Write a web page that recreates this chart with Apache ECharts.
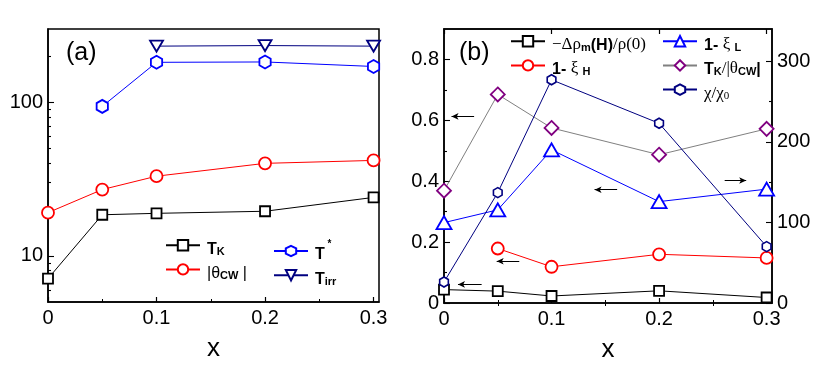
<!DOCTYPE html>
<html>
<head>
<meta charset="utf-8">
<script src="https://cdn.jsdelivr.net/npm/echarts@6/dist/echarts.min.js"></script>
<style>
  html, body { margin: 0; padding: 0; background: #fff; }
  #chart { width: 831px; height: 376px; }
</style>
</head>
<body>
<div id="chart"></div>
<script>
// x values shared by both panels
const xs = [0, 0.05, 0.1, 0.2, 0.3];

// panel (a), log scale
const tK = [7.1, 18.5, 18.9, 19.5, 24];
const thetaCW = [19.1, 27, 33, 40, 41.8];
const tStar = [null, 94, 182, 183, 171];
const tIrr = [null, null, 232, 234, 232];

// panel (b)
const dRho = [0.044, 0.039, 0.023, 0.040, 0.018];
const oneMinusXiH = [null, 0.179, 0.119, 0.160, 0.148];
const oneMinusXiL = [0.264, 0.306, 0.503, 0.333, 0.374];
const tkOverTheta = [0.369, 0.685, 0.575, 0.487, 0.572];
const chiRatio = [26, 137, 277, 223, 70];

// tick labels
const xTicks = [0, 0.1, 0.2, 0.3];
const xMinor = [0.05, 0.15, 0.25];
const logTicks = [10, 100];
const logMinor = [6, 7, 8, 9, 20, 30, 40, 50, 60, 70, 80, 90, 200];
const leftTicks = [0, 0.2, 0.4, 0.6, 0.8];
const leftMinor = [0.1, 0.3, 0.5, 0.7];
const rightTicks = [0, 100, 200, 300];
const rightMinor = [50, 150, 250];

// arrows in panel (b): [xFrom, xTo, y]
const arrowDRho = [0.035, 0.013, 0.061];
const arrowXiH = [0.07, 0.049, 0.137];
const arrowXiL = [0.161, 0.14, 0.372];
const arrowRatio = [0.028, 0.007, 0.613];
const arrowChi = [0.261, 0.281, 152];

const legendLabels = {
  TK: '{b|T}{sub|K}',
  thetaCW: '{r||θ}{sub|CW}{r| |}',
  tStar: '{b|T}{sup| *}',
  tIrr: '{b|T}{sub|irr}',
  dRho: '{s|−Δρ}{sub|m}{b|(H)}{s|/ρ(0)}',
  xiH: '{b|1- }{s|ξ }{sub|H}',
  xiL: '{b|1- }{s|ξ }{sub|L}',
  ratio: '{b|T}{sub|K}{s|/|θ}{sub|CW}{b||}',
  chi: '{s|χ/χ}{s0|0}'
};

const hexagon = 'path://M0,-1 L0.866,-0.5 L0.866,0.5 L0,1 L-0.866,0.5 L-0.866,-0.5 Z';
const FONT = 'Liberation Sans, Arial, sans-serif';

function pairs(vals) {
  return xs.map((x, i) => [x, vals[i]]).filter(p => p[1] !== null);
}

function arrowLine(a) {
  return [[{ coord: [a[0], a[2]] }, { coord: [a[1], a[2]] }]];
}

const arrowStyle = {
  silent: true,
  symbol: ['none', 'arrow'],
  symbolSize: [5, 7],
  lineStyle: { color: '#000', width: 1, type: 'solid' },
  label: { show: false },
  emphasis: { disabled: true }
};

const rich = {
  b: { fontFamily: FONT, fontSize: 16, fontWeight: 'bold', color: '#000', lineHeight: 24, verticalAlign: 'bottom' },
  r: { fontFamily: FONT, fontSize: 16, color: '#000', lineHeight: 24, verticalAlign: 'bottom' },
  s: { fontFamily: 'Liberation Serif, serif', fontSize: 17, color: '#000', lineHeight: 24, verticalAlign: 'bottom' },
  sub: { fontFamily: FONT, fontSize: 11, fontWeight: 'bold', color: '#000', lineHeight: 12, verticalAlign: 'bottom' },
  s0: { fontFamily: 'Liberation Serif, serif', fontSize: 11, color: '#000', lineHeight: 12, verticalAlign: 'bottom' },
  sup: { fontFamily: FONT, fontSize: 10, fontWeight: 'bold', color: '#000', lineHeight: 12, verticalAlign: 'top' }
};

function legend(left, top, names, gap) {
  return {
    left: left, top: top, orient: 'vertical',
    data: names, itemWidth: 34, itemHeight: 13, itemGap: gap,
    selectedMode: false,
    formatter: n => legendLabels[n],
    textStyle: { rich: rich, padding: [0, 0, 0, 2] }
  };
}

function xMain(gridIndex, pos, showLabel) {
  return {
    type: 'value', gridIndex: gridIndex, position: pos, min: 0, max: 0.305,
    axisLine: { show: true, onZero: false, lineStyle: { color: '#000', width: 1.5 } },
    axisTick: { show: true, inside: true, length: 5, customValues: xTicks, lineStyle: { color: '#000', width: 1.2 } },
    axisLabel: { show: showLabel, customValues: xTicks, color: '#000', fontSize: 20, fontFamily: FONT, margin: 6 },
    splitLine: { show: false },
    name: showLabel ? 'x' : '', nameLocation: 'middle', nameGap: 34,
    nameTextStyle: { color: '#000', fontSize: 26, fontFamily: FONT }
  };
}

function xMinorAxis(gridIndex, pos) {
  return {
    type: 'value', gridIndex: gridIndex, position: pos, min: 0, max: 0.305,
    axisLine: { show: false },
    axisTick: { show: true, inside: true, length: 3, customValues: xMinor, lineStyle: { color: '#000', width: 1 } },
    axisLabel: { show: false },
    splitLine: { show: false }
  };
}

function yAxisDef(opts) {
  return Object.assign({
    splitLine: { show: false },
    axisLine: { show: opts.line !== false, onZero: false, lineStyle: { color: '#000', width: 1.5 } },
    axisTick: { show: true, inside: true, length: opts.len, customValues: opts.ticks, lineStyle: { color: '#000', width: 1.1 } },
    axisLabel: { show: !!opts.labels, customValues: opts.ticks, color: '#000', fontSize: 20, fontFamily: FONT, margin: 5 }
  }, opts.base);
}

const chart = echarts.init(document.getElementById('chart'), null, { renderer: 'canvas' });

chart.setOption({
  backgroundColor: '#fff',
  animation: false,
  title: [
    { text: '(a)', left: 61, top: 36, textStyle: { fontFamily: FONT, fontSize: 25, fontWeight: 'normal', color: '#000' } },
    { text: '(b)', left: 454, top: 36, textStyle: { fontFamily: FONT, fontSize: 25, fontWeight: 'normal', color: '#000' } }
  ],
  grid: [
    { left: 48, right: 452, top: 29, bottom: 74, show: true, borderColor: '#000', borderWidth: 1.5 },
    { left: 444, right: 59, top: 29, bottom: 73, show: true, borderColor: '#000', borderWidth: 1.5 }
  ],
  legend: [
    legend(160, 234, ['TK', 'thetaCW'], 6),
    legend(268, 234, ['tStar', 'tIrr'], 6),
    legend(505, 30, ['dRho', 'xiH'], 6),
    legend(657, 30, ['xiL', 'ratio', 'chi'], 6)
  ],
  xAxis: [
    xMain(0, 'bottom', true),
    xMinorAxis(0, 'bottom'),
    xMain(1, 'bottom', true),
    xMinorAxis(1, 'bottom'),
    xMain(1, 'top', false),
    xMinorAxis(1, 'top')
  ],
  yAxis: [
    yAxisDef({ base: { type: 'log', gridIndex: 0, position: 'left', min: 5, max: 300 }, ticks: logTicks, len: 6, labels: true }),
    yAxisDef({ base: { type: 'log', gridIndex: 0, position: 'left', min: 5, max: 300 }, ticks: logMinor, len: 3, line: false }),
    yAxisDef({ base: { type: 'value', gridIndex: 1, position: 'left', min: 0, max: 0.9 }, ticks: leftTicks, len: 6, labels: true }),
    yAxisDef({ base: { type: 'value', gridIndex: 1, position: 'left', min: 0, max: 0.9 }, ticks: leftMinor, len: 3, line: false }),
    yAxisDef({ base: { type: 'value', gridIndex: 1, position: 'right', min: 0, max: 340 }, ticks: rightTicks, len: 6, labels: true }),
    yAxisDef({ base: { type: 'value', gridIndex: 1, position: 'right', min: 0, max: 340 }, ticks: rightMinor, len: 3, line: false })
  ],
  series: [
    // panel (a)
    {
      name: 'TK', type: 'line', xAxisIndex: 0, yAxisIndex: 0, data: pairs(tK),
      symbol: 'rect', symbolSize: 10,
      lineStyle: { color: '#000', width: 1 },
      itemStyle: { color: '#fff', borderColor: '#000', borderWidth: 1.8 }
    },
    {
      name: 'thetaCW', type: 'line', xAxisIndex: 0, yAxisIndex: 0, data: pairs(thetaCW),
      symbol: 'circle', symbolSize: 12,
      lineStyle: { color: '#ff0000', width: 1 },
      itemStyle: { color: '#fff', borderColor: '#ff0000', borderWidth: 1.8 }
    },
    {
      name: 'tStar', type: 'line', xAxisIndex: 0, yAxisIndex: 0, data: pairs(tStar),
      symbol: hexagon, symbolKeepAspect: true, symbolSize: 13,
      lineStyle: { color: '#0000ff', width: 1 },
      itemStyle: { color: '#fff', borderColor: '#0000ff', borderWidth: 1.8 }
    },
    {
      name: 'tIrr', type: 'line', xAxisIndex: 0, yAxisIndex: 0, data: pairs(tIrr),
      symbol: 'triangle', symbolRotate: 180, symbolSize: [13, 11],
      lineStyle: { color: '#000080', width: 1 },
      itemStyle: { color: '#fff', borderColor: '#000080', borderWidth: 1.8 }
    },
    // panel (b)
    {
      name: 'dRho', type: 'line', xAxisIndex: 2, yAxisIndex: 2, data: pairs(dRho),
      symbol: 'rect', symbolSize: 10,
      lineStyle: { color: '#000', width: 1 },
      itemStyle: { color: '#fff', borderColor: '#000', borderWidth: 1.8 },
      markLine: Object.assign({ data: arrowLine(arrowDRho) }, arrowStyle)
    },
    {
      name: 'xiH', type: 'line', xAxisIndex: 2, yAxisIndex: 2, data: pairs(oneMinusXiH),
      symbol: 'circle', symbolSize: 12,
      lineStyle: { color: '#ff0000', width: 1 },
      itemStyle: { color: '#fff', borderColor: '#ff0000', borderWidth: 1.8 },
      markLine: Object.assign({ data: arrowLine(arrowXiH) }, arrowStyle)
    },
    {
      name: 'xiL', type: 'line', xAxisIndex: 2, yAxisIndex: 2, data: pairs(oneMinusXiL),
      symbol: 'triangle', symbolSize: [15, 13],
      lineStyle: { color: '#0000ff', width: 1 },
      itemStyle: { color: '#fff', borderColor: '#0000ff', borderWidth: 1.8 },
      markLine: Object.assign({ data: arrowLine(arrowXiL) }, arrowStyle)
    },
    {
      name: 'ratio', type: 'line', xAxisIndex: 2, yAxisIndex: 2, data: pairs(tkOverTheta),
      symbol: 'diamond', symbolSize: 14,
      lineStyle: { color: '#808080', width: 1 },
      itemStyle: { color: '#fff', borderColor: '#800080', borderWidth: 1.8 },
      markLine: Object.assign({ data: arrowLine(arrowRatio) }, arrowStyle)
    },
    {
      name: 'chi', type: 'line', xAxisIndex: 2, yAxisIndex: 4, data: pairs(chiRatio),
      symbol: hexagon, symbolKeepAspect: true, symbolSize: 10,
      lineStyle: { color: '#000080', width: 1 },
      itemStyle: { color: '#fff', borderColor: '#000080', borderWidth: 1.6 },
      markLine: Object.assign({ data: arrowLine(arrowChi) }, arrowStyle)
    }
  ]
});
</script>
</body>
</html>
